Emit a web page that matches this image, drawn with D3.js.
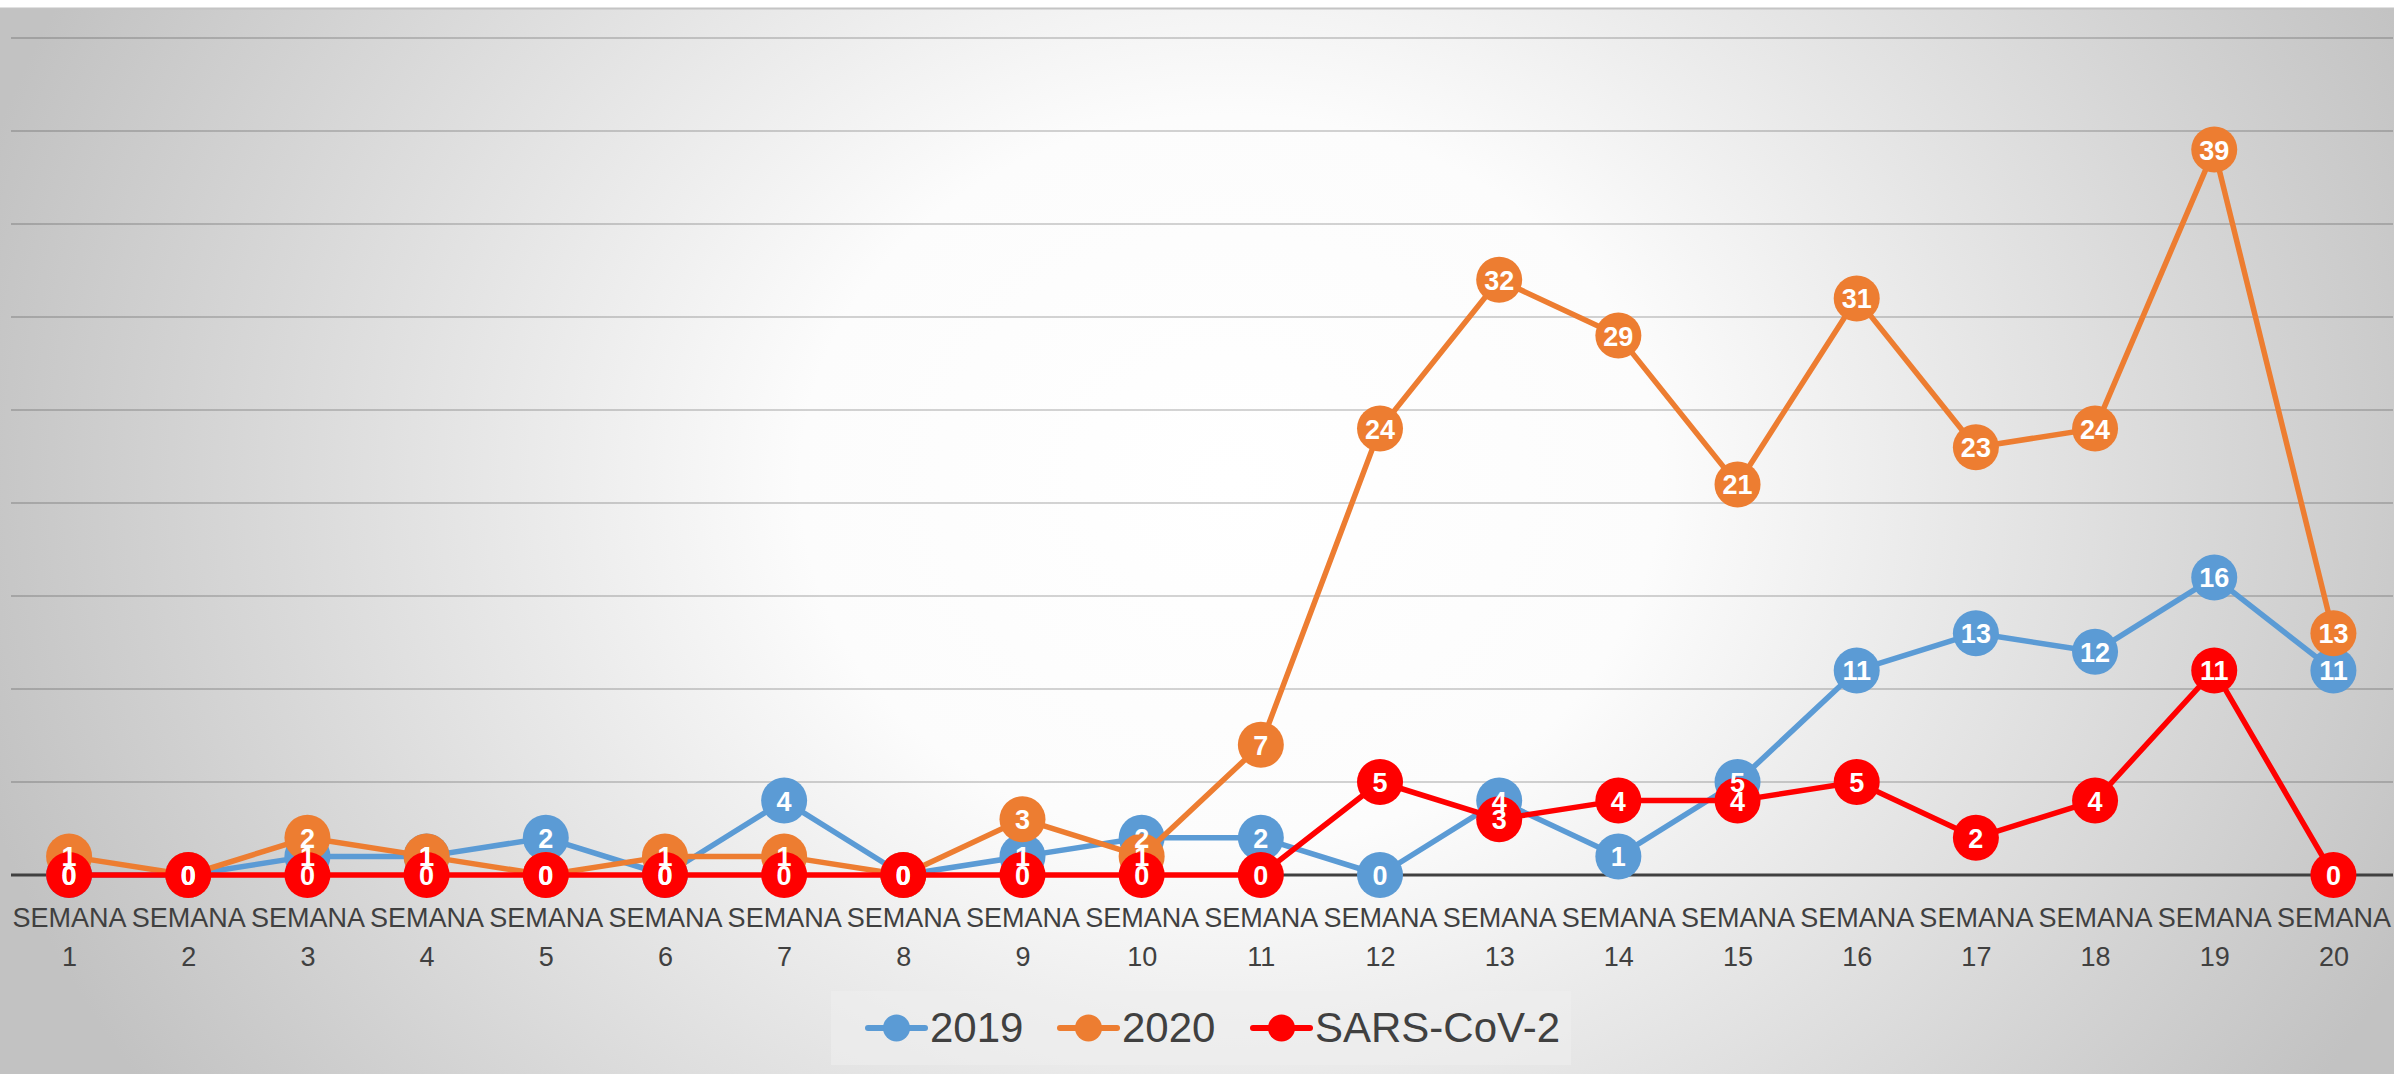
<!DOCTYPE html>
<html>
<head>
<meta charset="utf-8">
<script src="https://cdn.jsdelivr.net/npm/d3@7"></script>
<style>
  html, body { margin: 0; padding: 0; background: #ffffff; }
  svg { display: block; }
  text { font-family: "Liberation Sans", Arial, sans-serif; }
</style>
</head>
<body>
<svg id="chart" width="2394" height="1074"></svg>
<script>
// ---- data ----
const weeks = ["1","2","3","4","5","6","7","8","9","10","11","12","13","14","15","16","17","18","19","20"];
const categoryPrefix = "SEMANA";
const values2019 = [0,0,1,1,2,0,4,0,1,2,2,0,4,1,5,11,13,12,16,11];
const values2020 = [1,0,2,1,0,1,1,0,3,1,7,24,32,29,21,31,23,24,39,13];
const valuesSars = [0,0,0,0,0,0,0,0,0,0,0,5,3,4,4,5,2,4,11,0];
const seriesNames = ["2019", "2020", "SARS-CoV-2"];
const seriesColors = ["#5B9BD5", "#ED7D31", "#FF0000"];
const yTicks = [0,5,10,15,20,25,30,35,40,45];

const series = [
  {name: seriesNames[0], color: seriesColors[0], values: values2019},
  {name: seriesNames[1], color: seriesColors[1], values: values2020},
  {name: seriesNames[2], color: seriesColors[2], values: valuesSars}
];

const W = 2394, H = 1074;
const svg = d3.select("#chart");

// background gradient
const defs = svg.append("defs");
const grad = defs.append("radialGradient")
  .attr("id", "bg")
  .attr("gradientUnits", "userSpaceOnUse")
  .attr("cx", 1230).attr("cy", 480).attr("r", 1300)
  .attr("fx", 1230).attr("fy", 480)
  .attr("gradientTransform", "translate(1230,480) scale(1,0.85) translate(-1230,-480)");
grad.append("stop").attr("offset", 0).attr("stop-color", "#ffffff");
grad.append("stop").attr("offset", 0.33).attr("stop-color", "#fcfcfc");
grad.append("stop").attr("offset", 1).attr("stop-color", "#c2c2c2");

svg.append("rect").attr("x", 0).attr("y", 0).attr("width", W).attr("height", H).attr("fill", "#ffffff");
svg.append("rect").attr("x", 0).attr("y", 8).attr("width", W).attr("height", H - 8).attr("fill", "url(#bg)");
svg.append("line").attr("x1", 0).attr("x2", W).attr("y1", 8.5).attr("y2", 8.5)
  .attr("stroke", "#c4c4c4").attr("stroke-width", 2);

// scales
const x = d3.scalePoint().domain(weeks).range([9.5, 2393]).padding(0.5);
const y = d3.scaleLinear().domain([0, 45]).range([875, 38]);

// gridlines
const plotLeft = 11, plotRight = 2393;
svg.append("g").selectAll("line")
  .data(yTicks.filter(d => d > 0))
  .join("line")
  .attr("x1", plotLeft).attr("x2", plotRight)
  .attr("y1", d => y(d)).attr("y2", d => y(d))
  .attr("stroke", "rgba(0,0,0,0.17)").attr("stroke-width", 2);

// x axis
const xAxis = d3.axisBottom(x).tickSize(0).tickFormat(d => d);
const gx = svg.append("g").attr("transform", `translate(0,${y(0)})`).call(xAxis);
gx.select(".domain").remove();
gx.append("line").attr("x1", plotLeft).attr("x2", plotRight).attr("y1", 0).attr("y2", 0)
  .attr("stroke", "#404040").attr("stroke-width", 3);
gx.selectAll(".tick text").each(function(d) {
  const t = d3.select(this);
  t.text(null).attr("y", 0).attr("dy", null)
    .attr("fill", "#404040").attr("font-size", 27).attr("text-anchor", "middle");
  t.append("tspan").attr("x", 0).attr("y", 52).text(categoryPrefix);
  t.append("tspan").attr("x", 0).attr("y", 91).text(d);
});

// lines and markers
const line = d3.line().x((d, i) => x(weeks[i])).y(d => y(d));
const R = 23;
series.forEach(s => {
  const g = svg.append("g");
  g.append("path").datum(s.values).attr("d", line)
    .attr("fill", "none").attr("stroke", s.color).attr("stroke-width", 5.5)
    .attr("stroke-linejoin", "round").attr("stroke-linecap", "round");
  g.selectAll("circle").data(s.values).join("circle")
    .attr("cx", (d, i) => x(weeks[i])).attr("cy", d => y(d)).attr("r", R)
    .attr("fill", s.color);
});

// data labels (drawn on top of all series)
series.forEach(s => {
  svg.append("g").selectAll("text").data(s.values).join("text")
    .attr("x", (d, i) => x(weeks[i])).attr("y", d => y(d) + 10)
    .attr("text-anchor", "middle").attr("fill", "#ffffff")
    .attr("font-size", 27).attr("font-weight", "bold")
    .text(d => d);
});

// legend
const legend = svg.append("g");
legend.append("rect").attr("x", 831).attr("y", 991).attr("width", 740).attr("height", 74)
  .attr("fill", "#eeeeee").attr("fill-opacity", 0.6);
const legendX = [868, 1060, 1253];
const legendY = 1028;
series.forEach((s, i) => {
  const g = legend.append("g").attr("transform", `translate(${legendX[i]},${legendY})`);
  g.append("line").attr("x1", 0).attr("x2", 57).attr("y1", 0).attr("y2", 0)
    .attr("stroke", s.color).attr("stroke-width", 6).attr("stroke-linecap", "round");
  g.append("circle").attr("cx", 28.5).attr("cy", 0).attr("r", 13.5).attr("fill", s.color);
  g.append("text").attr("x", 62).attr("y", 14).attr("font-size", 42).attr("fill", "#404040")
    .text(s.name);
});
</script>
</body>
</html>
